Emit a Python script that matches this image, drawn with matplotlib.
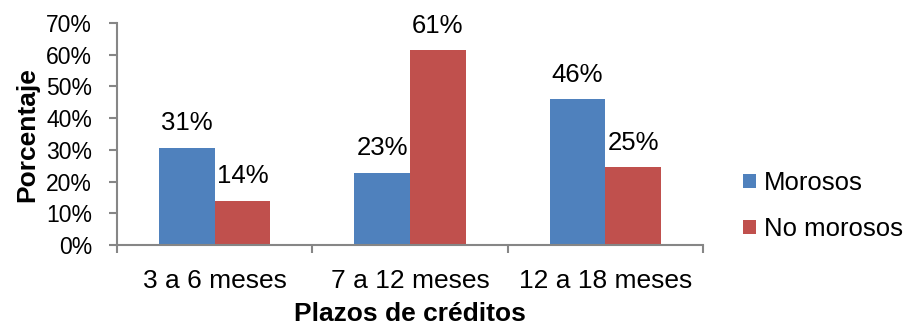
import matplotlib.pyplot as plt
import numpy as np

plt.rcParams['font.family'] = ['Liberation Sans', 'DejaVu Sans']

# datos
plazos = ['3 a 6 meses', '7 a 12 meses', '12 a 18 meses']
morosos = [0.307, 0.228, 0.459]
no_morosos = [0.139, 0.614, 0.246]

azul = '#4F81BD'
rojo = '#C0504D'
gris = '#868686'

fig = plt.figure(figsize=(9.11, 3.25), dpi=100)
ax = fig.add_axes([0.1284, 0.246, 0.6433, 0.683])

x = np.arange(len(plazos))
w = 0.2857
b1 = ax.bar(x - w / 2, morosos, w, color=azul, label='Morosos')
b2 = ax.bar(x + w / 2, no_morosos, w, color=rojo, label='No morosos')

# etiquetas de valor sobre cada barra
for barras in (b1, b2):
    for r in barras:
        v = r.get_height()
        ax.annotate('{:.0%}'.format(v), (r.get_x() + r.get_width() / 2, v),
                    xytext=(0, 9), textcoords='offset points',
                    ha='center', va='bottom', fontsize=18.5)

ax.set_xlim(-0.5, 2.5)
ax.set_ylim(0, 0.7)
ax.set_yticks(np.arange(0, 0.71, 0.1))
ax.set_yticklabels(['{:.0f}%'.format(t * 100) for t in np.arange(0, 0.71, 0.1)])
ax.set_xticks(x)
ax.set_xticklabels(plazos)
ax.set_xticks(np.arange(-0.5, 2.6, 1), minor=True)

ax.tick_params(axis='y', length=6, width=1.5, color=gris, pad=12, labelsize=16.5)
ax.tick_params(axis='x', which='major', length=0, pad=17, labelsize=19)
ax.tick_params(axis='x', which='minor', length=6, width=1.5, color=gris)

for s in ['top', 'right']:
    ax.spines[s].set_visible(False)
for s in ['left', 'bottom']:
    ax.spines[s].set_color(gris)
    ax.spines[s].set_linewidth(1.5)

ax.set_ylabel('Porcentaje', fontsize=19, fontweight='bold', labelpad=5)
ax.set_xlabel('Plazos de créditos', fontsize=19, fontweight='bold', labelpad=7)

fig.legend(loc='center left', bbox_to_anchor=(0.816, 0.366), frameon=False,
           fontsize=18.5, handlelength=0.5, handleheight=0.5,
           handletextpad=0.3, labelspacing=0.85, borderaxespad=0, borderpad=0)

fig.savefig('out.png', dpi=100)
